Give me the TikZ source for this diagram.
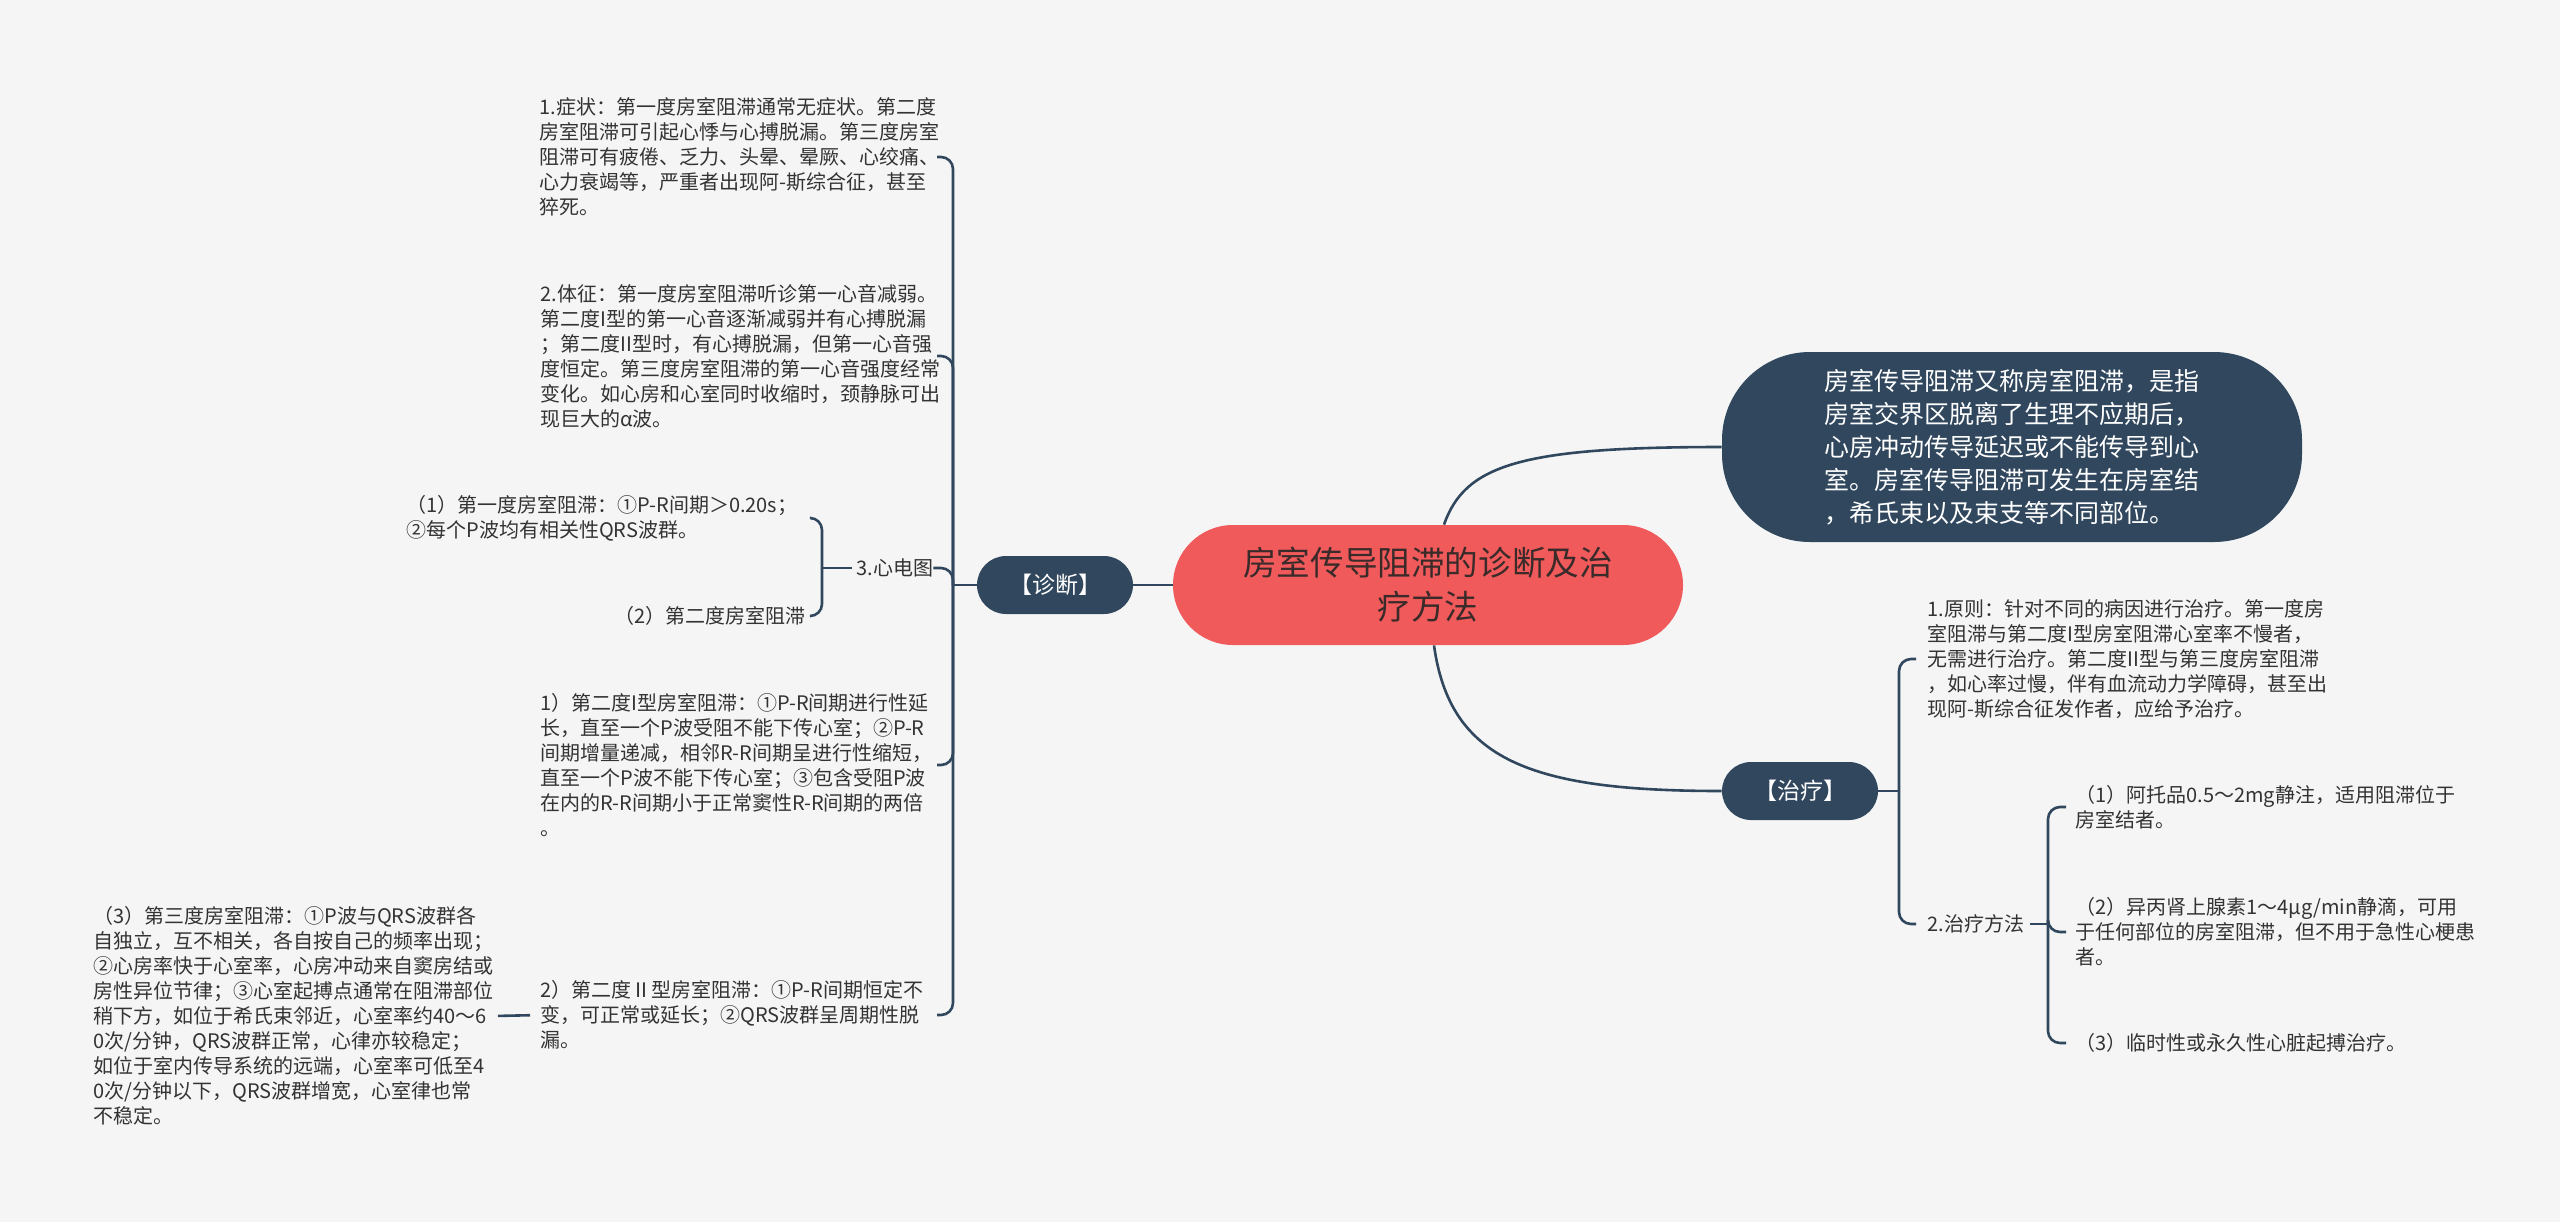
\documentclass[tikz,border=0pt]{standalone}
\usepackage{fontspec}
\setmainfont{Noto Sans CJK SC}
\usepackage{xcolor}
\usepackage{tikz}
\usetikzlibrary{positioning}
\definecolor{navy}{HTML}{30475E}
\definecolor{coral}{HTML}{F05A5A}
\definecolor{paper}{HTML}{F5F5F5}
\definecolor{ink}{HTML}{333333}
\definecolor{rootink}{HTML}{3A2A2A}

\begin{document}
\begin{tikzpicture}[
    x=0.5pt, y=-0.5pt,
    root/.style={fill=coral,rounded corners=30pt,minimum width=255pt,minimum height=60pt,align=center,text=rootink,font=\fontsize{16.8}{22}\selectfont},
    note/.style={fill=navy,rounded corners=44pt,minimum width=290pt,minimum height=95pt,align=left,text=white,font=\fontsize{12.5}{16.5}\selectfont},
    branch/.style={fill=navy,rounded corners=14.5pt,minimum width=78pt,minimum height=29pt,text=white,font=\fontsize{11.5}{14}\selectfont},
    leaf/.style={align=left,inner sep=0pt,text=ink,font=\fontsize{10}{12.5}\selectfont},
    link/.style={draw=navy,line width=1.3pt},
    hook/.style={link,rounded corners=6pt}
  ]
    \fill[paper] (0,0) rectangle (2560,1222);
    \useasboundingbox (0,0) rectangle (2560,1222);

    \node[root] (main) at (1428,585) {房室传导阻滞的诊断及治\\疗方法};
    \node[note] (defn) at (2012,447) {房室传导阻滞又称房室阻滞，是指\\房室交界区脱离了生理不应期后，\\心房冲动传导延迟或不能传导到心\\室。房室传导阻滞可发生在房室结\\，希氏束以及束支等不同部位。};
    \node[branch] (diag) at (1055,585) {【诊断】};
    \node[branch] (cure) at (1800,791) {【治疗】};

    \node[leaf,anchor=west] (symp) at (539,157) {1.症状：第一度房室阻滞通常无症状。第二度\\房室阻滞可引起心悸与心搏脱漏。第三度房室\\阻滞可有疲倦、乏力、头晕、晕厥、心绞痛、\\心力衰竭等，严重者出现阿-斯综合征，甚至\\猝死。};
    \node[leaf,anchor=west] (sign) at (540,356) {2.体征：第一度房室阻滞听诊第一心音减弱。\\第二度I型的第一心音逐渐减弱并有心搏脱漏\\；第二度II型时，有心搏脱漏，但第一心音强\\度恒定。第三度房室阻滞的第一心音强度经常\\变化。如心房和心室同时收缩时，颈静脉可出\\现巨大的α波。};
    \node[leaf,anchor=west] (ecg) at (856,568) {3.心电图};
    \node[leaf,anchor=west] (ecgone) at (406,518) {（1）第一度房室阻滞：①P-R间期＞0.20s；\\②每个P波均有相关性QRS波群。};
    \node[leaf,anchor=east] (ecgtwo) at (806,616) {（2）第二度房室阻滞};
    \node[leaf,anchor=west] (typeone) at (540,765) {1）第二度I型房室阻滞：①P-R间期进行性延\\长，直至一个P波受阻不能下传心室；②P-R\\间期增量递减，相邻R-R间期呈进行性缩短，\\直至一个P波不能下传心室；③包含受阻P波\\在内的R-R间期小于正常窦性R-R间期的两倍\\。};
    \node[leaf,anchor=west] (typetwo) at (540,1015) {2）第二度Ⅱ型房室阻滞：①P-R间期恒定不\\变，可正常或延长；②QRS波群呈周期性脱\\漏。};
    \node[leaf,anchor=west] (third) at (93,1016) {（3）第三度房室阻滞：①P波与QRS波群各\\自独立，互不相关，各自按自己的频率出现；\\②心房率快于心室率，心房冲动来自窦房结或\\房性异位节律；③心室起搏点通常在阻滞部位\\稍下方，如位于希氏束邻近，心室率约40～6\\0次/分钟，QRS波群正常，心律亦较稳定；\\如位于室内传导系统的远端，心室率可低至4\\0次/分钟以下，QRS波群增宽，心室律也常\\不稳定。};

    \node[leaf,anchor=west] (rule) at (1927,659) {1.原则：针对不同的病因进行治疗。第一度房\\室阻滞与第二度I型房室阻滞心室率不慢者，\\无需进行治疗。第二度II型与第三度房室阻滞\\，如心率过慢，伴有血流动力学障碍，甚至出\\现阿-斯综合征发作者，应给予治疗。};
    \node[leaf,anchor=west] (method) at (1927,924) {2.治疗方法};
    \node[leaf,anchor=west] (atro) at (2075,807) {（1）阿托品0.5～2mg静注，适用阻滞位于\\房室结者。};
    \node[leaf,anchor=west] (iso) at (2075,932) {（2）异丙肾上腺素1～4μg/min静滴，可用\\于任何部位的房室阻滞，但不用于急性心梗患\\者。};
    \node[leaf,anchor=west] (pace) at (2075,1043) {（3）临时性或永久性心脏起搏治疗。};

    \coordinate (dxfork) at (953,585);
    \coordinate (dxtip) at (937,585);
    \coordinate (ecgfork) at (822,568);
    \coordinate (ecgtip) at (811,568);
    \coordinate (txfork) at (1899,791);
    \coordinate (txtip) at (1916,791);
    \coordinate (mfork) at (2048,924);
    \coordinate (mtip) at (2066,924);

    \draw[link] (main.west) -- (diag.east);
    \draw[link] ([xshift=8pt]main.north) .. controls (1465,465) and (1520,447) .. (defn.west);
    \draw[link] ([xshift=3pt]main.south) .. controls (1450,760) and (1530,791) .. (cure.west);

    \draw[link] (diag.west) -- (dxfork);
    \draw[hook] (dxfork) |- (symp.east -| dxtip);
    \draw[hook] (dxfork) |- (sign.east -| dxtip);
    \draw[hook] (dxfork) |- (ecg.east);
    \draw[hook] (dxfork) |- (typeone.east -| dxtip);
    \draw[hook] (dxfork) |- (typetwo.east -| dxtip);

    \draw[link,shorten <=2pt] (ecg.west) -- (ecgfork);
    \draw[hook] (ecgfork) |- (ecgone.east -| ecgtip);
    \draw[hook] (ecgfork) |- (ecgtwo.east -| ecgtip);
    \draw[link,shorten <=2pt,shorten >=5pt] (third.east) -- (typetwo.west);

    \draw[link] (cure.east) -- (txfork);
    \draw[hook] (txfork) |- (rule.west -| txtip);
    \draw[hook] (txfork) |- (method.west -| txtip);

    \draw[link,shorten <=3pt] (method.east) -- (mfork);
    \draw[hook] (mfork) |- (atro.west -| mtip);
    \draw[hook] (mfork) |- (iso.west -| mtip);
    \draw[hook] (mfork) |- (pace.west -| mtip);
  \end{tikzpicture}
\end{document}
